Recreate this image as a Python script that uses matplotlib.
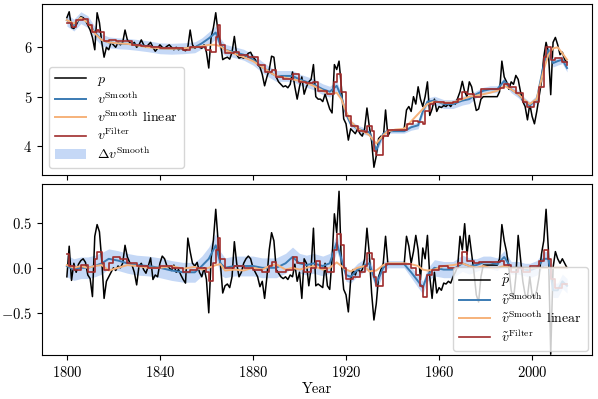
import numpy as np
import matplotlib.pyplot as plt

plt.rcParams['font.family'] = 'serif'
plt.rcParams['font.serif'] = ['cmr10']
plt.rcParams['mathtext.fontset'] = 'cm'
plt.rcParams['axes.formatter.use_mathtext'] = True
plt.rcParams['font.size'] = 10.5

# yearly price (log) and detrended price
years = np.arange(1800, 2016)
p = [6.60, 6.72, 6.40, 6.38, 6.45, 6.55, 6.62, 6.60, 6.55, 6.45,
     6.35, 6.20, 5.95, 6.70, 6.50, 6.10, 5.80, 6.00, 5.95, 6.10,
     6.05, 6.00, 6.10, 6.05, 6.10, 6.35, 6.15, 6.10, 6.05, 6.10,
     6.00, 6.05, 6.15, 6.05, 6.00, 6.05, 6.10, 6.00, 5.92, 5.98,
     6.05, 6.00, 5.98, 6.02, 6.05, 6.00, 5.95, 6.00, 5.95, 5.98,
     5.95, 5.93, 6.00, 6.35, 6.05, 5.98, 6.02, 6.00, 5.98, 6.05,
     5.90, 5.58, 6.20, 6.40, 6.70, 6.30, 6.10, 5.75, 5.78, 5.80,
     5.76, 5.90, 6.22, 5.85, 5.78, 5.80, 5.78, 5.82, 5.88, 5.90,
     5.80, 5.75, 5.65, 5.60, 5.45, 5.22, 5.40, 5.55, 5.82, 5.80,
     5.40, 5.30, 5.25, 5.20, 5.22, 5.18, 5.25, 5.50, 5.20, 4.95,
     5.20, 5.40, 5.05, 5.20, 5.30, 5.35, 5.65, 5.00, 4.95, 4.95,
     4.90, 5.05, 4.90, 4.75, 4.67, 5.65, 5.55, 5.72, 5.20, 4.55,
     4.45, 4.12, 4.35, 4.30, 4.25, 4.35, 4.25, 4.20, 4.35, 4.77,
     4.40, 4.10, 3.57, 3.80, 4.15, 4.20, 4.15, 4.73, 4.20, 4.30,
     4.32, 4.33, 4.33, 4.33, 4.33, 4.35, 4.73, 4.80, 4.70, 5.00,
     4.85, 5.20, 4.95, 4.80, 5.00, 5.30, 4.62, 4.75, 4.95, 4.70,
     4.80, 4.78, 4.82, 4.80, 4.85, 4.80, 4.88, 4.85, 4.97, 5.10,
     5.31, 5.10, 5.00, 5.30, 5.20, 4.95, 4.72, 4.75, 4.95, 5.00,
     5.00, 5.00, 5.00, 5.00, 5.00, 5.00, 5.10, 5.72, 5.40, 5.30,
     5.15, 5.30, 5.25, 5.43, 5.35, 5.10, 4.90, 4.80, 4.53, 4.85,
     4.60, 4.45, 4.70, 5.00, 5.30, 5.80, 6.10, 5.90, 5.04, 6.10,
     6.20, 6.05, 5.85, 5.90, 5.75, 5.70]
p_det = [-0.10, 0.24, -0.14, 0.05, -0.05, 0.04, 0.08, 0.10, 0.06, -0.08,
         -0.12, -0.32, 0.35, 0.48, 0.40, 0.08, -0.34, -0.15, -0.10, -0.05,
         0.00, -0.03, 0.02, 0.00, 0.05, 0.25, 0.12, 0.06, 0.03, -0.05,
         -0.19, 0.02, 0.05, -0.02, -0.06, 0.02, 0.11, -0.13, -0.08, -0.10,
         0.05, 0.13, 0.10, 0.02, 0.00, -0.03, 0.03, -0.05, -0.02, -0.08,
         -0.13, -0.17, 0.33, 0.18, 0.05, 0.02, 0.06, -0.05, -0.10, 0.00,
         -0.13, -0.50, 0.10, 0.31, 0.65, 0.30, 0.05, -0.28, -0.20, -0.18,
         -0.22, -0.10, 0.29, 0.05, -0.10, -0.05, 0.05, 0.10, 0.13, 0.10,
         0.00, -0.05, -0.10, -0.21, -0.15, -0.34, -0.10, 0.20, 0.39, 0.30,
         -0.02, -0.06, -0.10, -0.12, -0.10, -0.13, -0.08, -0.10, 0.04, -0.15,
         -0.05, -0.34, 0.10, 0.05, -0.20, 0.00, 0.44, -0.20, -0.18, -0.20,
         -0.22, 0.05, -0.20, -0.24, 0.10, 0.60, 0.39, 0.85, 0.05, -0.24,
         -0.30, -0.49, -0.13, -0.02, -0.08, 0.00, -0.05, -0.02, 0.10, 0.44,
         0.16, -0.28, -0.58, -0.40, -0.10, -0.02, 0.05, 0.35, 0.04, 0.04,
         0.04, 0.04, 0.04, 0.04, 0.04, 0.04, 0.35, 0.24, 0.05, 0.18,
         0.36, 0.20, -0.13, 0.22, 0.10, 0.36, -0.10, -0.34, -0.05, -0.28,
         -0.22, -0.25, -0.17, -0.18, -0.15, -0.17, -0.10, -0.05, 0.02, 0.35,
         0.20, 0.49, 0.15, 0.36, 0.15, -0.05, -0.30, -0.38, -0.10, 0.03,
         0.03, 0.03, 0.03, 0.03, 0.03, 0.03, 0.10, 0.48, 0.30, 0.18,
         0.00, -0.25, -0.35, -0.10, 0.36, 0.10, -0.15, -0.30, -0.32, -0.10,
         -0.30, -0.34, -0.25, -0.10, 0.15, 0.30, 0.65, 0.20, -0.96, 0.00,
         0.18, 0.10, 0.05, 0.10, 0.05, 0.00]

# smoothed estimates on knot years
k_years = [1800, 1803, 1806, 1809, 1812, 1815, 1818, 1822, 1826, 1830,
           1835, 1840, 1845, 1850, 1855, 1858, 1861, 1864, 1866, 1868,
           1872, 1876, 1880, 1884, 1887, 1890, 1894, 1897, 1900, 1903,
           1906, 1910, 1913, 1916, 1918, 1920, 1922, 1925, 1928, 1930,
           1933, 1936, 1938, 1941, 1945, 1948, 1951, 1953, 1955, 1958,
           1962, 1966, 1970, 1973, 1976, 1979, 1982, 1985, 1988, 1991,
           1994, 1997, 1999, 2002, 2005, 2007, 2009, 2011, 2013, 2015]
v_smooth = [6.55, 6.45, 6.60, 6.52, 6.30, 6.15, 6.10, 6.08, 6.07, 6.05,
            6.02, 5.98, 5.97, 5.98, 6.00, 6.08, 6.18, 6.30, 6.05, 5.95,
            5.90, 5.85, 5.75, 5.60, 5.50, 5.42, 5.42, 5.42, 5.35, 5.30,
            5.25, 5.15, 5.10, 5.22, 5.00, 4.65, 4.45, 4.35, 4.30, 4.28,
            3.92, 4.25, 4.30, 4.30, 4.30, 4.38, 4.42, 4.70, 4.90, 4.92,
            4.85, 4.85, 4.92, 4.95, 5.05, 5.12, 5.15, 5.15, 5.32, 5.15,
            5.05, 4.90, 4.82, 4.95, 5.65, 5.95, 5.68, 5.72, 5.75, 5.58]
v_lin = [6.55, 6.48, 6.60, 6.50, 6.28, 6.15, 6.10, 6.08, 6.07, 6.04,
         6.00, 5.98, 5.97, 5.98, 6.00, 6.02, 6.05, 6.05, 6.02, 5.95,
         5.87, 5.80, 5.72, 5.60, 5.50, 5.42, 5.38, 5.35, 5.32, 5.28,
         5.22, 5.12, 5.05, 5.08, 4.95, 4.70, 4.50, 4.35, 4.28, 4.22,
         4.05, 4.22, 4.30, 4.33, 4.35, 4.50, 4.65, 4.75, 4.85, 4.90,
         4.88, 4.88, 4.95, 5.00, 5.02, 5.05, 5.08, 5.12, 5.22, 5.15,
         5.05, 4.92, 4.85, 4.95, 5.55, 5.85, 5.98, 6.00, 5.88, 5.75]
dv = [0.12, 0.12, 0.12, 0.12, 0.12, 0.12, 0.11, 0.11, 0.11, 0.11,
      0.11, 0.11, 0.11, 0.11, 0.11, 0.11, 0.13, 0.13, 0.13, 0.11,
      0.11, 0.11, 0.11, 0.11, 0.11, 0.11, 0.11, 0.11, 0.11, 0.11,
      0.11, 0.11, 0.11, 0.10, 0.07, 0.07, 0.07, 0.07, 0.07, 0.07,
      0.07, 0.07, 0.04, 0.04, 0.04, 0.06, 0.07, 0.07, 0.07, 0.09,
      0.09, 0.09, 0.09, 0.09, 0.07, 0.07, 0.07, 0.07, 0.07, 0.07,
      0.07, 0.07, 0.08, 0.08, 0.08, 0.08, 0.08, 0.08, 0.08, 0.08]
vd_smooth = [0.02, -0.02, 0.00, 0.00, 0.02, 0.05, 0.10, 0.08, 0.05, 0.03,
             0.02, 0.00, -0.03, -0.05, -0.05, 0.02, 0.10, 0.25, 0.05, 0.00,
             0.02, 0.02, 0.02, 0.00, 0.00, 0.00, 0.05, 0.12, 0.05, 0.03,
             0.05, 0.02, 0.05, 0.28, 0.10, -0.08, -0.10, -0.02, 0.03, 0.05,
             -0.18, 0.00, 0.04, 0.04, 0.04, -0.05, -0.15, -0.22, -0.08, 0.00,
             -0.02, -0.02, 0.05, 0.02, 0.03, 0.06, 0.06, 0.04, 0.12, 0.00,
             0.00, -0.02, -0.03, 0.00, 0.10, 0.10, -0.25, -0.25, -0.15, -0.20]
vd_lin = [0.03, 0.00, 0.02, 0.00, 0.02, 0.03, -0.03, 0.00, 0.03, 0.02,
          0.00, 0.00, 0.02, -0.01, 0.01, -0.02, 0.00, 0.03, 0.04, -0.03,
          -0.02, -0.03, 0.00, -0.02, 0.02, 0.04, -0.02, 0.00, -0.02, 0.00,
          0.02, -0.02, 0.00, 0.06, 0.02, -0.02, -0.04, 0.00, 0.02, -0.04,
          -0.03, 0.03, 0.05, 0.05, 0.05, 0.04, 0.02, -0.02, -0.03, -0.02,
          0.02, 0.03, 0.05, 0.02, 0.00, 0.02, 0.00, 0.00, 0.02, 0.00,
          0.00, 0.00, 0.00, 0.00, 0.00, 0.00, 0.00, 0.00, 0.00, 0.00]

# filter estimates (piecewise constant)
f_years = [1800, 1802, 1804, 1807, 1809, 1811, 1813, 1814, 1816, 1818,
           1821, 1825, 1828, 1832, 1836, 1840, 1845, 1850, 1853, 1856,
           1860, 1862, 1864, 1865, 1866, 1868, 1872, 1874, 1878, 1882,
           1885, 1888, 1890, 1893, 1897, 1900, 1903, 1906, 1908, 1912,
           1915, 1916, 1918, 1920, 1922, 1925, 1928, 1929, 1931, 1932,
           1933, 1936, 1938, 1946, 1949, 1951, 1953, 1954, 1956, 1958,
           1962, 1966, 1968, 1970, 1972, 1975, 1978, 1986, 1988, 1990,
           1993, 1996, 1998, 2001, 2003, 2005, 2006, 2008, 2010, 2013, 2015]
v_filter = [6.50, 6.42, 6.55, 6.58, 6.45, 6.30, 6.35, 6.30, 6.12, 6.15,
            6.12, 6.12, 6.05, 6.03, 6.00, 5.98, 5.98, 5.95, 6.00, 6.00,
            5.95, 5.90, 6.20, 6.45, 6.05, 5.88, 5.90, 5.85, 5.80, 5.65,
            5.50, 5.55, 5.40, 5.35, 5.45, 5.30, 5.28, 5.30, 5.12, 5.05,
            5.30, 5.45, 5.10, 4.60, 4.40, 4.30, 4.28, 4.40, 4.30, 3.90,
            3.82, 4.20, 4.33, 4.45, 4.50, 4.48, 4.45, 4.70, 4.85, 4.90,
            4.88, 4.90, 4.95, 5.10, 5.05, 5.00, 5.15, 5.18, 5.25, 5.20,
            5.08, 4.90, 4.80, 4.90, 5.20, 5.80, 6.00, 5.75, 5.78, 5.70, 5.65]
fd_years = [1800, 1801, 1803, 1806, 1809, 1812, 1813, 1815, 1816, 1818,
            1820, 1823, 1826, 1830, 1835, 1840, 1845, 1850, 1853, 1856,
            1860, 1861, 1863, 1864, 1865, 1866, 1868, 1872, 1876, 1880,
            1884, 1887, 1888, 1890, 1894, 1897, 1899, 1902, 1905, 1907,
            1909, 1912, 1915, 1916, 1918, 1919, 1920, 1923, 1926, 1928,
            1929, 1931, 1932, 1933, 1936, 1937, 1946, 1948, 1950, 1952,
            1953, 1955, 1957, 1960, 1964, 1968, 1970, 1972, 1975, 1977,
            1986, 1988, 1991, 1994, 1996, 1999, 2003, 2005, 2007, 2008,
            2010, 2013, 2015]
vd_filter = [0.15, 0.02, -0.02, 0.03, -0.05, 0.10, 0.18, 0.05, -0.02, 0.05,
             0.12, 0.10, 0.05, 0.02, 0.00, 0.02, 0.00, -0.05, -0.03, 0.00,
             -0.05, -0.15, 0.05, 0.20, 0.33, 0.10, 0.00, 0.02, 0.00, -0.02,
             -0.05, 0.02, 0.06, -0.05, -0.02, 0.12, 0.05, -0.05, 0.00, 0.08,
             0.00, -0.05, 0.20, 0.38, 0.25, 0.00, -0.12, -0.10, -0.05, 0.02,
             0.16, 0.10, -0.10, -0.20, -0.05, 0.04, 0.04, 0.00, -0.08, -0.20,
             -0.32, -0.08, -0.02, 0.02, 0.00, 0.05, 0.18, 0.08, 0.05, 0.06,
             0.08, 0.03, -0.05, 0.00, -0.05, 0.02, 0.08, 0.20, 0.10, -0.12,
             -0.22, -0.18, -0.18]

c_blue = '#3b7bb3'
c_orange = '#f6b27a'
c_red = '#a02c2c'
c_band = '#a6c4f2'

fig, (ax1, ax2) = plt.subplots(2, 1, figsize=(5.98, 3.99), dpi=100, sharex=True)
fig.subplots_adjust(left=0.07, right=0.99, top=0.99, bottom=0.11, hspace=0.053)

leg_kw = dict(fontsize=10, labelspacing=0.15, handlelength=2.2,
              borderpad=0.45, handletextpad=0.8)

ks = np.array(v_smooth)
kd = np.array(dv)
ax1.plot(years, p, color='black', lw=1.1, label='$p$')
ax1.plot(k_years, v_smooth, color=c_blue, lw=1.4, label=r'$v^{\mathrm{Smooth}}$')
ax1.plot(k_years, v_lin, color=c_orange, lw=1.4, label=r'$v^{\mathrm{Smooth}}$ linear')
ax1.plot(f_years, v_filter, color=c_red, lw=1.2, drawstyle='steps-post',
         label=r'$v^{\mathrm{Filter}}$')
ax1.fill_between(k_years, ks - kd, ks + kd, color=c_band, alpha=0.65, lw=0,
                 zorder=0, label=r'$\Delta v^{\mathrm{Smooth}}$')
ax1.set_yticks([4, 5, 6])
ax1.legend(loc='lower left', borderaxespad=0.5, **leg_kw)

bs = np.array(vd_smooth)
ax2.plot(years, p_det, color='black', lw=1.1, label=r'$\tilde{p}$')
ax2.plot(k_years, vd_smooth, color=c_blue, lw=1.4, label=r'$\tilde{v}^{\mathrm{Smooth}}$')
ax2.plot(k_years, vd_lin, color=c_orange, lw=1.4, label=r'$\tilde{v}^{\mathrm{Smooth}}$ linear')
ax2.plot(fd_years, vd_filter, color=c_red, lw=1.2, drawstyle='steps-post',
         label=r'$\tilde{v}^{\mathrm{Filter}}$')
ax2.fill_between(k_years, bs - kd, bs + kd, color=c_band, alpha=0.65, lw=0, zorder=0)
ax2.set_ylim(-0.97, 0.93)
ax2.set_yticks([-0.5, 0.0, 0.5])
ax2.set_xticks([1800, 1840, 1880, 1920, 1960, 2000])
ax2.set_xlabel('Year', labelpad=2)
ax2.legend(loc='lower right', borderaxespad=0.3, **leg_kw)

fig.savefig('out.png', dpi=100)
